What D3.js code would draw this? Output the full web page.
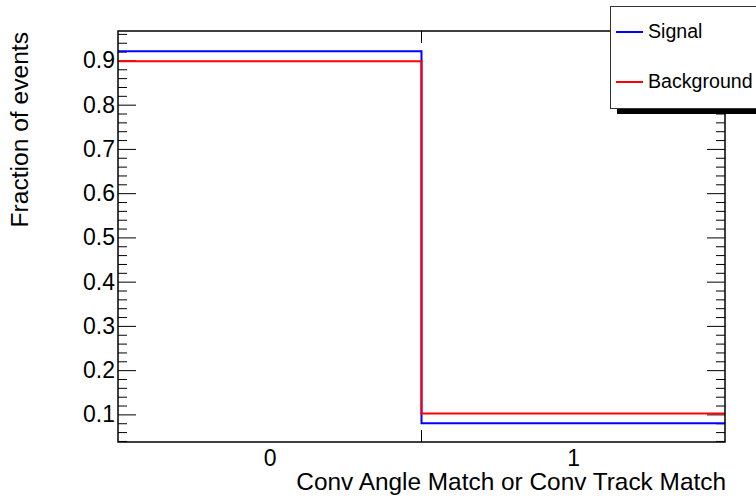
<!DOCTYPE html>
<html>
<head>
<meta charset="utf-8">
<script src="https://cdn.jsdelivr.net/npm/d3@7"></script>
<style>
  body { margin: 0; background: #fff; }
  text { font-family: "Liberation Sans", Arial, Helvetica, sans-serif; fill: #000; }
</style>
</head>
<body>
<svg id="chart" width="756" height="499"></svg>
<script>
// bin labels and fractions per bin
var categories = ['0', '1'];
var signal = [0.921, 0.080];
var background = [0.898, 0.102];
var majorTicks = [0.1, 0.2, 0.3, 0.4, 0.5, 0.6, 0.7, 0.8, 0.9];
var legendNames = ['Signal', 'Background'];

var svg = d3.select('#chart');
var frame = { left: 118, right: 725, top: 31, bottom: 442 };

var x = d3.scaleLinear().domain([-0.5, categories.length - 0.5]).range([frame.left, frame.right]);
var y = d3.scaleLinear().domain([0.0376, 0.9665]).range([frame.bottom, frame.top]);

var minorTicks = d3.range(0.04, 0.965, 0.02).filter(function (v) {
    return Math.abs(v * 10 - Math.round(v * 10)) > 0.01;
});

function styleAxis(g) {
    g.select('.domain').remove();
    g.selectAll('line').attr('stroke', '#000').attr('stroke-width', 1);
    g.selectAll('text').style('font-size', '23px');
}

// left axis
svg.append('g')
    .attr('transform', 'translate(' + frame.left + ',0)')
    .call(d3.axisLeft(y).tickValues(majorTicks).tickSizeInner(-18).tickSizeOuter(0).tickPadding(3).tickFormat(d3.format('.1f')))
    .call(styleAxis);
svg.append('g')
    .attr('transform', 'translate(' + frame.left + ',0)')
    .call(d3.axisLeft(y).tickValues(minorTicks).tickSizeInner(-9).tickSizeOuter(0).tickFormat(''))
    .call(styleAxis);

// right axis (ticks only)
svg.append('g')
    .attr('transform', 'translate(' + frame.right + ',0)')
    .call(d3.axisRight(y).tickValues(majorTicks).tickSizeInner(-18).tickSizeOuter(0).tickFormat(''))
    .call(styleAxis);
svg.append('g')
    .attr('transform', 'translate(' + frame.right + ',0)')
    .call(d3.axisRight(y).tickValues(minorTicks).tickSizeInner(-9).tickSizeOuter(0).tickFormat(''))
    .call(styleAxis);

// bottom axis labels at bin centres
svg.append('g')
    .attr('transform', 'translate(0,' + frame.bottom + ')')
    .call(d3.axisBottom(x).tickValues(d3.range(categories.length)).tickSize(0).tickPadding(8)
        .tickFormat(function (d) { return categories[d]; }))
    .call(styleAxis);

// ticks at the inner bin edges
var edges = d3.range(1, categories.length).map(function (i) { return i - 0.5; });
edges.forEach(function (e) {
    svg.append('line').attr('x1', x(e)).attr('x2', x(e))
        .attr('y1', frame.bottom).attr('y2', frame.bottom - 12)
        .attr('stroke', '#000');
    svg.append('line').attr('x1', x(e)).attr('x2', x(e))
        .attr('y1', frame.top).attr('y2', frame.top + 12)
        .attr('stroke', '#000');
});

// histograms
function stepPoints(values) {
    var pts = [];
    values.forEach(function (v, i) {
        pts.push([i - 0.5, v]);
        pts.push([i + 0.5, v]);
    });
    return pts;
}
var line = d3.line().x(function (d) { return x(d[0]); }).y(function (d) { return y(d[1]); });

svg.append('path').datum(stepPoints(signal))
    .attr('d', line).attr('fill', 'none').attr('stroke', '#0000ff').attr('stroke-width', 2);
svg.append('path').datum(stepPoints(background))
    .attr('d', line).attr('fill', 'none').attr('stroke', '#ff0000').attr('stroke-width', 2);

// frame
svg.append('rect')
    .attr('x', frame.left).attr('y', frame.top)
    .attr('width', frame.right - frame.left).attr('height', frame.bottom - frame.top)
    .attr('fill', 'none').attr('stroke', '#000').attr('stroke-width', 1.5);

// axis titles
svg.append('text')
    .attr('x', 726).attr('y', 490)
    .attr('text-anchor', 'end')
    .style('font-size', '24.4px')
    .text('Conv Angle Match or Conv Track Match');

svg.append('text')
    .attr('transform', 'translate(28,32) rotate(-90)')
    .attr('text-anchor', 'end')
    .style('font-size', '24.6px')
    .text('Fraction of events');

// legend
var legend = svg.append('g');
legend.append('rect')
    .attr('x', 617).attr('y', 109).attr('width', 160).attr('height', 5)
    .attr('fill', '#000');
legend.append('rect')
    .attr('x', 610.5).attr('y', 6.5).attr('width', 160).attr('height', 102)
    .attr('fill', '#fff').attr('stroke', '#333').attr('stroke-width', 1);

var legendColors = ['#0000ff', '#ff0000'];
var legendY = [32, 82];
legendNames.forEach(function (name, i) {
    legend.append('line')
        .attr('x1', 616).attr('x2', 643)
        .attr('y1', legendY[i]).attr('y2', legendY[i])
        .attr('stroke', legendColors[i]).attr('stroke-width', 2);
    legend.append('text')
        .attr('x', 648).attr('y', legendY[i] + 6)
        .style('font-size', '19.6px')
        .text(name);
});
</script>
</body>
</html>
